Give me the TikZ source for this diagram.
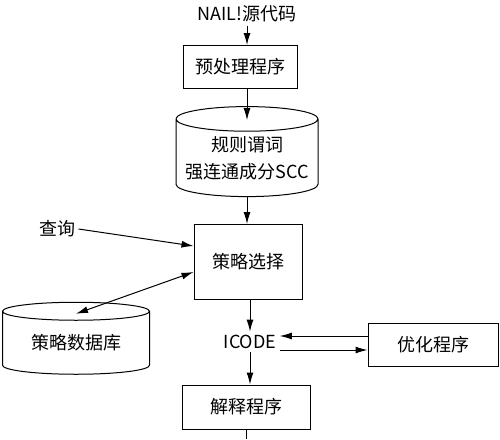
\documentclass[tikz,border=0pt]{standalone}
\usepackage{fontspec}
\setmainfont{Noto Sans CJK SC}
\usetikzlibrary{shapes.geometric,arrows.meta,positioning}

\begin{document}
\begin{tikzpicture}[x=1pt,y=-1pt]
		 \tikzstyle{every node}+=[font=\fontsize{18}{27}\selectfont]
		 \tikzstyle{box}=[draw=black,line width=1pt,rectangle,inner sep=0pt]
		 \tikzstyle{store}=[draw=black,line width=1pt,cylinder,shape border rotate=90,aspect=0.2,inner xsep=0pt,inner ysep=-14pt,align=center]
		 \tikzstyle{arr}=[black,line width=1pt,-{Latex[length=12pt,width=7pt]}]
		 \tikzstyle{arrs}=[black,line width=1pt,{Latex[length=12pt,width=7pt]}-{Latex[length=12pt,width=7pt]}]
		 \useasboundingbox (0,0) rectangle (500,439);
		 \node (src) at (247,14) {NAIL!源代码};
		 \node [box,minimum width=114pt,minimum height=43pt] (pre) at (240,67) {预处理程序};
		 \node [store,minimum width=142pt,minimum height=90pt] (rules) at (247,158) {规则谓词\\强连通成分SCC};
		 \node [box,minimum width=108pt,minimum height=75pt] (sel) at (248,262) {策略选择};
		 \node (query) at (57,229) {查询};
		 \node [store,minimum width=147pt,minimum height=72pt] (db) at (76,343) {策略数据库};
		 \node (icode) at (250,342) {ICODE};
		 \node [box,minimum width=130pt,minimum height=43pt] (opt) at (433,345) {优化程序};
		 \node [box,minimum width=128pt,minimum height=44pt] (interp) at (246,407) {解释程序};
		 \coordinate [below=14pt of rules.top] (rulescap);
		 \coordinate [below=12pt of db.top] (dbcap);
		 \coordinate (out) at (246,439);
		 \draw [arr] (src.south) -- (src.south |- pre.north);
		 \draw [arr] (rulescap |- pre.south) -- (rulescap);
		 \draw [arr] (rules.bottom) -- (rules.bottom |- sel.north);
		 \draw [arr] (query.east) -- ([yshift=16pt]sel.west);
		 \draw [arrs] ([yshift=-10pt]sel.west) -- (dbcap);
		 \draw [arr] (sel.south -| icode) -- (icode.north);
		 \draw [arr] ([yshift=9pt]opt.west) -- ([yshift=9pt]opt.west -| icode.east);
		 \draw [arr] ([yshift=-8pt]icode.east) -- ([yshift=-8pt]icode.east -| opt.west);
		 \draw [arr] (icode.south) -- (icode.south |- interp.north);
		 \draw [black,line width=1pt] (interp.south) -- (out);
	 \end{tikzpicture}
\end{document}
